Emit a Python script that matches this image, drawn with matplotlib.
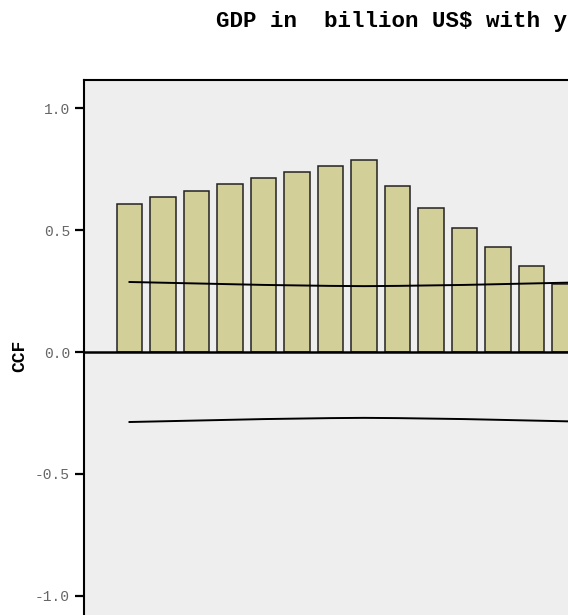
import matplotlib
matplotlib.use("Agg")
import matplotlib.pyplot as plt
from matplotlib.ticker import FixedLocator, FuncFormatter

# Cross-correlation coefficients by lag
lags = [-7, -6, -5, -4, -3, -2, -1, 0, 1, 2, 3, 4, 5, 6]
ccf = [0.605, 0.634, 0.661, 0.689, 0.714, 0.739, 0.764, 0.787,
       0.680, 0.590, 0.509, 0.432, 0.354, 0.277]

# Confidence limits
limit_lags = [-7, -6, -5, -4, -3, -2, -1, 0, 1, 2, 3, 4, 5, 6, 7]
upper_limit = [0.287, 0.284, 0.281, 0.278, 0.275, 0.273, 0.271, 0.270,
               0.271, 0.273, 0.275, 0.278, 0.281, 0.284, 0.287]
lower_limit = [-v for v in upper_limit]

y_ticks = [-1.0, -0.5, 0.0, 0.5, 1.0]
title_text = "GDP in  billion US$ with y"
y_label = "CCF"

bar_color = "#D3CF99"
bg_color = "#EEEEEE"
mono = ["Liberation Mono", "DejaVu Sans Mono"]

fig = plt.figure(figsize=(5.68, 6.15), dpi=100)
fig.patch.set_facecolor("white")

ax = fig.add_axes([84 / 568, 1 - 624 / 615, 560 / 568, 544 / 615])
ax.set_facecolor(bg_color)

ax.bar(lags, ccf, width=0.76, color=bar_color, edgecolor="#222222",
       linewidth=1.1, zorder=2)
ax.plot(limit_lags, upper_limit, color="black", linewidth=1.4, zorder=3)
ax.plot(limit_lags, lower_limit, color="black", linewidth=1.4, zorder=3)
ax.axhline(0, color="black", linewidth=1.8, zorder=4)

ax.set_xlim(-8.358, 8.358)
ax.set_ylim(-1.115, 1.115)

ax.yaxis.set_major_locator(FixedLocator(y_ticks))
ax.yaxis.set_major_formatter(FuncFormatter(lambda v, p: f"{v:.1f}".replace("\u2212", "-")))
ax.tick_params(axis="y", direction="out", length=6.5, width=1.6, pad=3.5,
               labelsize=10.5, labelcolor="#666666", color="black")
for lbl in ax.get_yticklabels():
    lbl.set_family(mono)
ax.tick_params(axis="x", bottom=False, labelbottom=False)

for side in ["left", "top", "right", "bottom"]:
    ax.spines[side].set_linewidth(1.5)
    ax.spines[side].set_color("black")

fig.text(20 / 568, 1 - 356 / 615, y_label, rotation=90, ha="center", va="center",
         fontsize=13, fontweight="bold", family=mono)
fig.text(216 / 568, 1 - 22 / 615, title_text, ha="left", va="center",
         fontsize=16.2, fontweight="bold", family=mono)

fig.savefig("out.png", dpi=100, facecolor="white")
